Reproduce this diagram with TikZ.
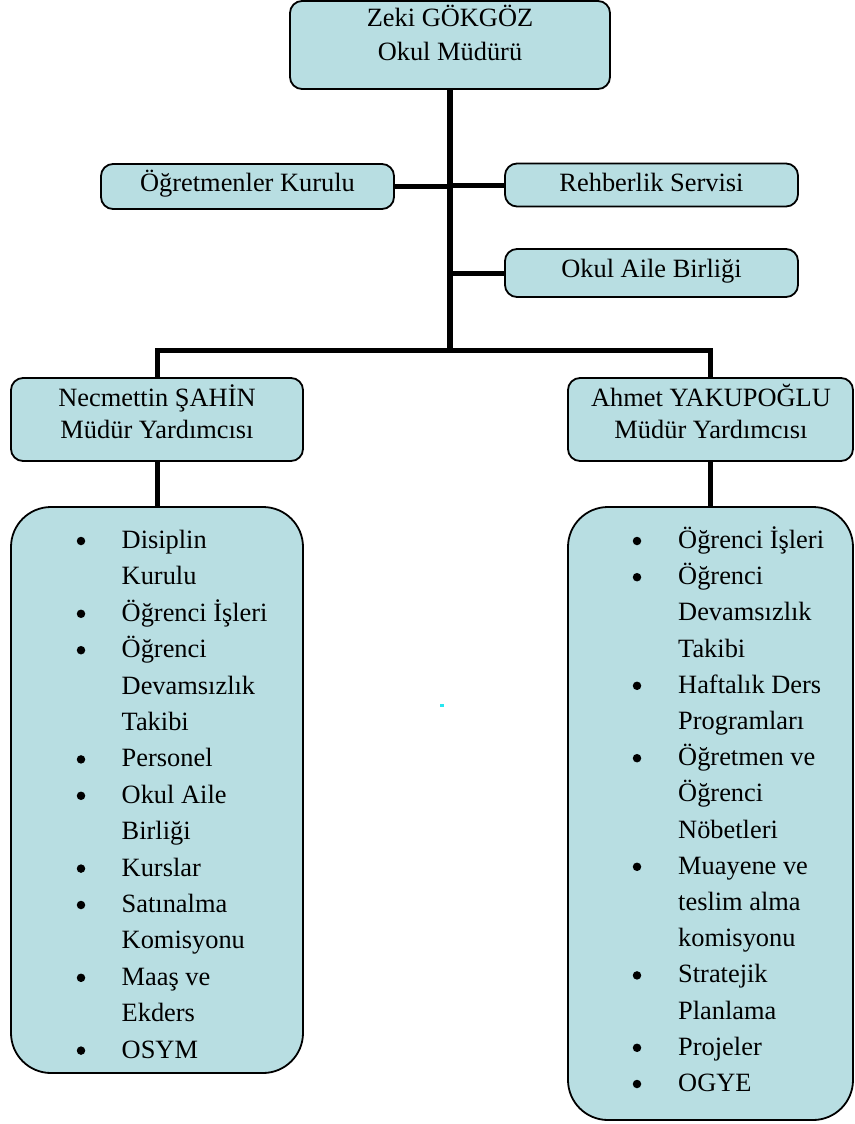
\documentclass[tikz,border=0pt]{standalone}
\usepackage{fontspec}
\setmainfont{Liberation Serif}
\definecolor{boxfill}{RGB}{184,222,226}
\definecolor{speck}{RGB}{40,230,240}
\tikzset{
  box/.style={draw=black, line width=1.8pt, fill=boxfill, rounded corners=12pt, inner sep=0pt},
  listbox/.style={box, rounded corners=40pt},
  conn/.style={line width=5pt, line join=miter},
  trunk/.style={line width=6pt},
  txt/.style={inner sep=0pt, font=\fontsize{26.4}{33}\selectfont},
  bul/.style={circle, fill=black, inner sep=0pt, minimum size=8.5pt},
}
\begin{document}
\begin{tikzpicture}[x=1pt,y=-1pt]
\useasboundingbox (0,0) rectangle (854,1124);
% boxes
\node[box, minimum width=320pt, minimum height=88pt] (top) at (450,45) {};
\node[box, minimum width=293pt, minimum height=45pt] (ogr) at (247.5,186.5) {};
\node[box, minimum width=293pt, minimum height=43pt] (reh) at (651.5,185) {};
\node[box, minimum width=293pt, minimum height=48pt] (oab) at (651.5,273) {};
\node[box, minimum width=292pt, minimum height=83pt] (nec) at (157,419.5) {};
\node[box, minimum width=285pt, minimum height=83pt] (ahm) at (710.5,419.5) {};
\node[listbox, minimum width=292pt, minimum height=566pt] (neclist) at (157,790) {};
\node[listbox, minimum width=285pt, minimum height=613pt] (ahmlist) at (710.5,813.5) {};
\coordinate (bus) at (450,350);
% connectors
\draw[trunk] (top.south) -- (bus);
\draw[conn] (ogr.east) -- (ogr.east -| bus);
\draw[conn] (reh.west) -- (reh.west -| bus);
\draw[conn] (oab.west) -- (oab.west -| bus);
\draw[conn] (nec.north) |- (bus) -| (ahm.north);
\draw[conn] (nec.south) -- (neclist.north);
\draw[conn] (ahm.south) -- (ahmlist.north);
% titles
\node[txt, anchor=base] (t1) at (450,27) {Zeki GÖKGÖZ};
\node[txt, anchor=base] (t2) at (450,60) {Okul Müdürü};
\node[txt, anchor=base] (t3) at (247.5,191) {Öğretmenler Kurulu};
\node[txt, anchor=base] (t4) at (651.5,191) {Rehberlik Servisi};
\node[txt, anchor=base] (t5) at (651.5,277) {Okul Aile Birliği};
\node[txt, anchor=base] (t6) at (157,406) {Necmettin ŞAHİN};
\node[txt, anchor=base] (t7) at (157,438) {Müdür Yardımcısı};
\node[txt, anchor=base] (t8) at (711,406) {Ahmet YAKUPOĞLU};
\node[txt, anchor=base] (t9) at (711,438) {Müdür Yardımcısı};
% left list
\foreach \t [count=\i from 0] in {Disiplin, Kurulu, Öğrenci İşleri, Öğrenci, Devamsızlık, Takibi, Personel, Okul Aile, Birliği, Kurslar, Satınalma, Komisyonu, Maaş ve, Ekders, OSYM}
  \node[txt, anchor=base west] (L\i) at (121.5,{548.5+\i*36.4}) {\t};
\foreach \i in {0,2,3,6,7,9,10,12,14}
  \node[bul] (LB\i) at (81,{541+\i*36.4}) {};
% right list
\foreach \t [count=\i from 0] in {Öğrenci İşleri, Öğrenci, Devamsızlık, Takibi, Haftalık Ders, Programları, Öğretmen ve, Öğrenci, Nöbetleri, Muayene ve, teslim alma, komisyonu, Stratejik, Planlama, Projeler, OGYE}
  \node[txt, anchor=base west] (R\i) at (678,{548.5+\i*36.2}) {\t};
\foreach \i in {0,1,4,6,9,12,14,15}
  \node[bul] (RB\i) at (637,{541+\i*36.2}) {};
% small speck
\fill[speck] (440,704) rectangle (444,706.5);
\end{tikzpicture}
\end{document}
